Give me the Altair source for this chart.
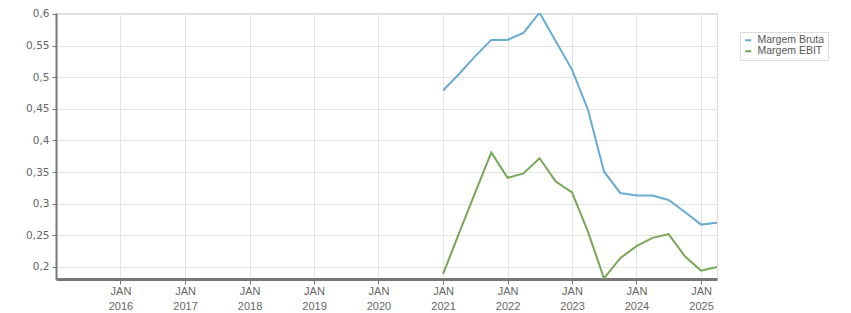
import altair as alt
import pandas as pd

dates = ["2021-01-01", "2021-04-01", "2021-07-01", "2021-10-01",
         "2022-01-01", "2022-04-01", "2022-07-01", "2022-10-01",
         "2023-01-01", "2023-04-01", "2023-07-01", "2023-10-01",
         "2024-01-01", "2024-04-01", "2024-07-01", "2024-10-01",
         "2025-01-01", "2025-04-01"]
margem_bruta = [0.479, 0.505, 0.533, 0.559, 0.559, 0.570, 0.602, 0.557,
                0.512, 0.449, 0.351, 0.317, 0.313, 0.313, 0.306, 0.287,
                0.267, 0.270]
margem_ebit = [0.189, 0.253, 0.317, 0.381, 0.341, 0.348, 0.372, 0.335,
               0.318, 0.256, 0.182, 0.214, 0.233, 0.246, 0.252, 0.217,
               0.194, 0.200]
series = ["Margem Bruta", "Margem EBIT"]
colors = ["#6aabd2", "#76a757"]
y_ticks = [0.2, 0.25, 0.3, 0.35, 0.4, 0.45, 0.5, 0.55, 0.6]
x_tick_years = list(range(2016, 2026))

rows = []
for d, v in zip(dates, margem_bruta):
    rows.append({"date": d, "serie": series[0], "valor": v})
for d, v in zip(dates, margem_ebit):
    rows.append({"date": d, "serie": series[1], "valor": v})
df = pd.DataFrame(rows)

label_color = "#666666"

chart = alt.Chart(df).mark_line(strokeWidth=2, clip=True).encode(
    x=alt.X(
        "date:T",
        scale=alt.Scale(
            type="utc",
            domain=[alt.DateTime(year=2015, month=1, date=1, utc=True),
                    alt.DateTime(year=2025, month=4, date=1, utc=True)],
        ),
        axis=alt.Axis(
            title=None,
            values=[alt.DateTime(year=y, month=1, date=1, utc=True) for y in x_tick_years],
            labelExpr="['JAN', utcFormat(datum.value, '%Y')]",
            labelFont="Liberation Sans", labelFontSize=11, labelColor=label_color,
            labelLineHeight=15, labelPadding=1,
            grid=True, gridColor="#e3e3e3", gridWidth=1,
            domainColor="#777777", domainWidth=3,
            tickColor="#777777", tickSize=5, tickWidth=1,
        ),
    ),
    y=alt.Y(
        "valor:Q",
        scale=alt.Scale(domain=[0.181, 0.6015], nice=False, zero=False),
        axis=alt.Axis(
            title=None,
            values=y_ticks,
            labelExpr="replace(format(datum.value, '.2~f'), '.', ',')",
            labelFont="DejaVu Sans", labelFontSize=10.5, labelColor=label_color,
            labelPadding=3,
            grid=True, gridColor="#e3e3e3", gridWidth=1,
            domainColor="#777777", domainWidth=2,
            tickColor="#777777", tickSize=4, tickWidth=1,
        ),
    ),
    color=alt.Color(
        "serie:N",
        scale=alt.Scale(domain=series, range=colors),
        legend=alt.Legend(
            title=None, orient="none", legendX=684, legendY=19,
            symbolType="stroke", symbolSize=36, symbolStrokeWidth=2,
            labelFont="Liberation Sans", labelFontSize=10.5, labelColor="#555555",
            strokeColor="#dddddd", padding=3, fillColor="white",
            rowPadding=0, labelOffset=4,
        ),
    ),
).properties(
    width=661,
    height=266,
    autosize=alt.AutoSizeParams(type="none"),
    padding={"left": 56, "top": 13, "right": 134, "bottom": 34},
).configure_view(
    stroke="#e3e3e3", strokeWidth=1,
).configure(background="white")

chart.save("out.html", embed_options={"renderer": "svg", "actions": False})
